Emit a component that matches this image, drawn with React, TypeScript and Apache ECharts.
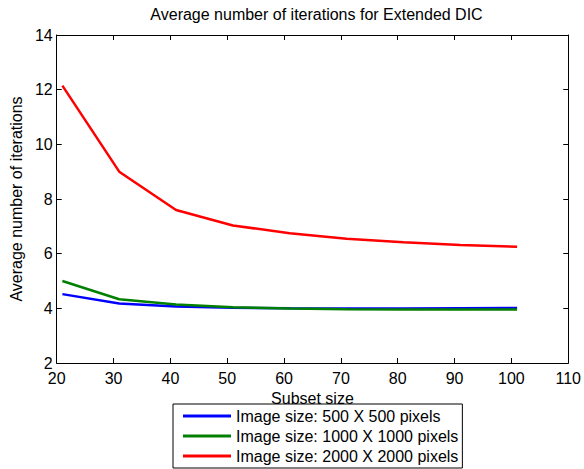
import React, { useEffect, useRef } from "react";
import * as echarts from "echarts";

const subsetSizes = [21, 31, 41, 51, 61, 71, 81, 91, 101];
const iter500 = [4.52, 4.18, 4.07, 4.02, 4.0, 3.99, 3.99, 4.0, 4.01];
const iter1000 = [5.0, 4.33, 4.14, 4.04, 3.99, 3.97, 3.96, 3.96, 3.96];
const iter2000 = [12.15, 9.0, 7.6, 7.03, 6.75, 6.55, 6.42, 6.32, 6.25];
const seriesNames = [
  "Image size: 500 X 500 pixels",
  "Image size: 1000 X 1000 pixels",
  "Image size: 2000 X 2000 pixels",
];
const seriesColors = ["#0000ff", "#008000", "#ff0000"];

const FONT = "'Liberation Sans', Arial, Helvetica, sans-serif";

export default function App() {
  const ref = useRef<HTMLDivElement>(null);
  useEffect(() => {
    if (!ref.current) return;
    const chart = echarts.init(ref.current, null, { renderer: "svg" });
    const mk = (vals: number[]) => subsetSizes.map((x, i) => [x, vals[i]]);
    const dataSets = [iter500, iter1000, iter2000];
    const axisCommon = {
      axisLine: { show: true, lineStyle: { color: "#000", width: 1 } },
      axisTick: { show: true, inside: true, length: 5, lineStyle: { color: "#000" } },
      splitLine: { show: false },
    };
    chart.setOption({
      animation: false,
      backgroundColor: "#fff",
      title: {
        text: "Average number of iterations for Extended DIC",
        left: 316.5,
        top: 6,
        textAlign: "center",
        padding: 0,
        textStyle: { fontSize: 16, fontWeight: "normal", color: "#000", fontFamily: FONT },
      },
      grid: { left: 56, top: 35, width: 521, height: 328, containLabel: false },
      xAxis: [
        {
          type: "value",
          min: 20,
          max: 110,
          interval: 10,
          position: "bottom",
          name: "Subset size",
          nameLocation: "middle",
          nameGap: 15,
          nameTextStyle: { fontSize: 16, color: "#000", fontFamily: FONT, lineHeight: 16 },
          axisLabel: {
            fontSize: 16,
            lineHeight: 14,
            color: "#000",
            margin: 8,
            fontFamily: FONT,
            showMaxLabel: true,
            alignMaxLabel: "center",
            alignMinLabel: "center",
          },
          ...axisCommon,
        },
        {
          type: "value",
          min: 20,
          max: 110,
          interval: 10,
          position: "top",
          axisLabel: { show: false },
          ...axisCommon,
        },
      ],
      yAxis: [
        {
          type: "value",
          min: 2,
          max: 14,
          interval: 2,
          position: "left",
          name: "Average number of iterations",
          nameLocation: "middle",
          nameGap: 27,
          nameTextStyle: { fontSize: 16, color: "#000", fontFamily: FONT },
          axisLabel: { fontSize: 16, lineHeight: 12, color: "#000", margin: 4, fontFamily: FONT },
          ...axisCommon,
        },
        {
          type: "value",
          min: 2,
          max: 14,
          interval: 2,
          position: "right",
          axisLabel: { show: false },
          ...axisCommon,
        },
      ],
      legend: {
        orient: "vertical",
        left: 173,
        top: 404,
        padding: [4, 4, 4, 10],
        itemGap: 4,
        itemWidth: 48,
        itemHeight: 3,
        icon: "rect",
        borderColor: "#000",
        borderWidth: 1,
        borderRadius: 0,
        backgroundColor: "#fff",
        textStyle: { fontSize: 16, color: "#000", fontFamily: FONT },
        data: seriesNames,
      },
      series: dataSets.map((vals, i) => ({
        name: seriesNames[i],
        type: "line",
        xAxisIndex: 0,
        yAxisIndex: 0,
        data: mk(vals),
        symbol: "none",
        showSymbol: false,
        color: seriesColors[i],
        itemStyle: { color: seriesColors[i] },
        lineStyle: { color: seriesColors[i], width: 2.5 },
        z: 2 + i,
      })),
    });
    return () => chart.dispose();
  }, []);
  return (
    <div
      ref={ref}
      style={{ position: "fixed", left: 0, top: 0, width: 584, height: 469 }}
    />
  );
}
